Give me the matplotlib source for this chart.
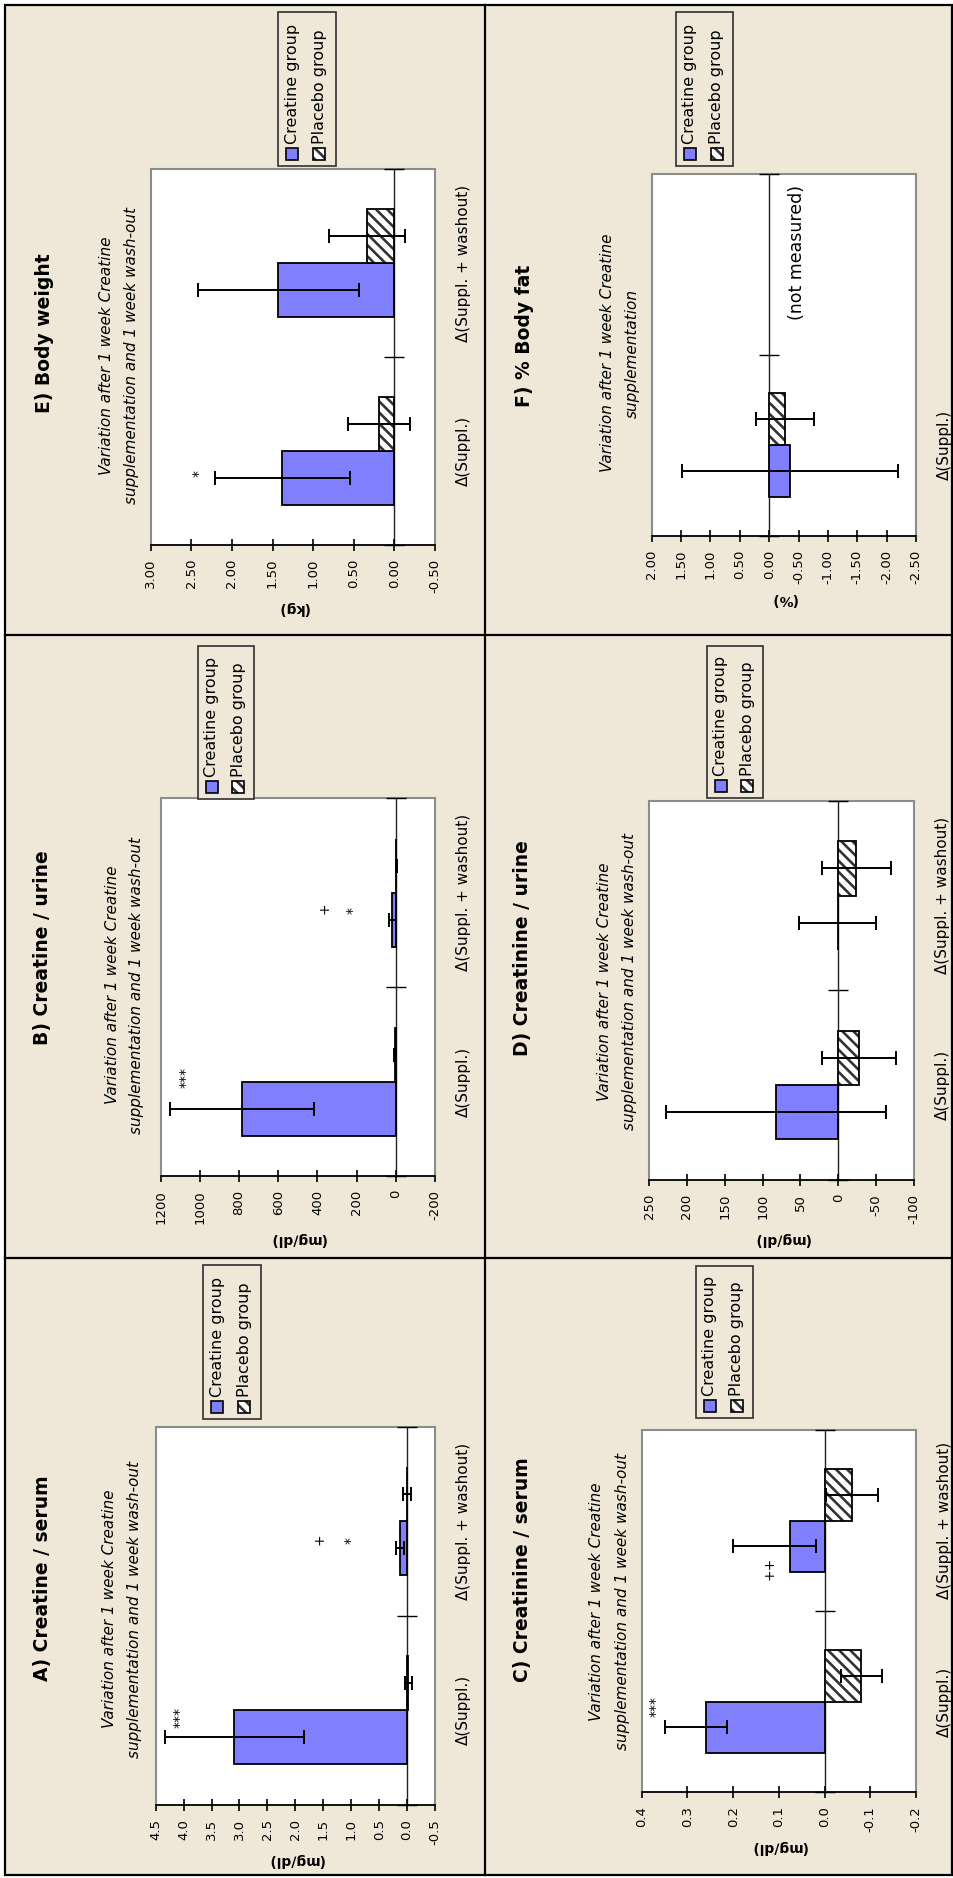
import matplotlib
matplotlib.use('Agg')
import matplotlib.pyplot as plt
from matplotlib.patches import Rectangle
from matplotlib.lines import Line2D
import numpy as np

plt.rcParams['font.family'] = ['DejaVu Sans']
plt.rcParams['axes.unicode_minus'] = False
plt.rcParams['hatch.linewidth'] = 1.9

W, H, DPI = 954, 1878, 100
BG = '#EFE8D8'
BLUE = '#8080FF'
HATCH = '\\\\\\'

categories = ['Δ(Suppl.)', 'Δ(Suppl. + washout)']
series_names = ['Creatine group', 'Placebo group']
subtitle_2w = ['Variation after 1 week Creatine', 'supplementation and 1 week wash-out']
subtitle_1w = ['Variation after 1 week Creatine', 'supplementation']

# ---------------- data ----------------
# A) Creatine / serum
A_ticks = [4.5, 4.0, 3.5, 3.0, 2.5, 2.0, 1.5, 1.0, 0.5, 0.0, -0.5]
A_ticklabels = ['4.5', '4.0', '3.5', '3.0', '2.5', '2.0', '1.5', '1.0', '0.5', '0.0', '-0.5']
A_creatine = [3.09, 0.13]
A_creatine_err_lo = [1.24, 0.07]
A_creatine_err_hi = [1.24, 0.07]
A_placebo = [-0.02, 0.00]
A_placebo_err = [0.06, 0.07]
A_marks = [('***', 4.08, -0.035), ('+', 1.57, 0.906), ('*', 1.02, 0.90)]

# B) Creatine / urine
B_ticks = [1200, 1000, 800, 600, 400, 200, 0, -200]
B_ticklabels = ['1200', '1000', '800', '600', '400', '200', '0', '-200']
B_creatine = [785, 17]
B_creatine_err_lo = [366, 16]
B_creatine_err_hi = [366, 16]
B_placebo = [2, -2]
B_placebo_err = [5, 3]
B_marks = [('***', 1075, 0.02), ('+', 363, 0.918), ('*', 220, 0.907)]

# C) Creatinine / serum
C_ticks = [0.4, 0.3, 0.2, 0.1, 0.0, -0.1, -0.2]
C_ticklabels = ['0.4', '0.3', '0.2', '0.1', '0.0', '-0.1', '-0.2']
C_creatine = [0.26, 0.075]
C_creatine_err_lo = [0.046, 0.056]
C_creatine_err_hi = [0.09, 0.126]
C_placebo = [-0.08, -0.06]
C_placebo_err = [0.045, 0.056]
C_marks = [('***', 0.37, -0.025), ('++', 0.12, 0.738)]

# D) Creatinine / urine
D_ticks = [250, 200, 150, 100, 50, 0, -50, -100]
D_ticklabels = ['250', '200', '150', '100', '50', '0', '-50', '-100']
D_creatine = [82, 1]
D_creatine_err_lo = [145, 51]
D_creatine_err_hi = [145, 51]
D_placebo = [-27, -24]
D_placebo_err = [49, 46]
D_marks = []

# E) Body weight
E_ticks = [3.0, 2.5, 2.0, 1.5, 1.0, 0.5, 0.0, -0.5]
E_ticklabels = ['3.00', '2.50', '2.00', '1.50', '1.00', '0.50', '0.00', '-0.50']
E_creatine = [1.38, 1.43]
E_creatine_err_lo = [0.83, 0.99]
E_creatine_err_hi = [0.83, 0.99]
E_placebo = [0.19, 0.34]
E_placebo_err = [0.38, 0.47]
E_marks = [('*', 2.41, -0.12)]

# F) % Body fat (only first period measured)
F_ticks = [2.0, 1.5, 1.0, 0.5, 0.0, -0.5, -1.0, -1.5, -2.0, -2.5]
F_ticklabels = ['2.00', '1.50', '1.00', '0.50', '0.00', '-0.50', '-1.00', '-1.50', '-2.00', '-2.50']
F_creatine = [-0.35]
F_creatine_err_lo = [1.84]
F_creatine_err_hi = [1.84]
F_placebo = [-0.27]
F_placebo_err = [0.50]
F_marks = [('(not measured)', -0.48, 1.066)]

# ---------------- layout (pixels) ----------------
panels = [
    dict(title='A) Creatine / serum', unit='(mg/dl)', box=(155.7, 435, 1426.7, 1805),
         title_xy=(43, 1578), sub_x=(110, 135), sub_y=1609, sub=subtitle_2w,
         leg=(203, 261, 1265, 1419), ticks=A_ticks, tl=A_ticklabels,
         cre=A_creatine, cre_lo=A_creatine_err_lo, cre_hi=A_creatine_err_hi,
         pla=A_placebo, pla_err=A_placebo_err, marks=A_marks, cats=categories),
    dict(title='B) Creatine / urine', unit='(mg/dl)', box=(160.7, 435, 798, 1176),
         title_xy=(43, 948), sub_x=(113, 137), sub_y=985, sub=subtitle_2w,
         leg=(198, 254, 646, 799), ticks=B_ticks, tl=B_ticklabels,
         cre=B_creatine, cre_lo=B_creatine_err_lo, cre_hi=B_creatine_err_hi,
         pla=B_placebo, pla_err=B_placebo_err, marks=B_marks, cats=categories),
    dict(title='C) Creatinine / serum', unit='(mg/dl)', box=(641.7, 916, 1430, 1792),
         title_xy=(523, 1570), sub_x=(597, 622), sub_y=1602, sub=subtitle_2w,
         leg=(696, 753, 1266, 1418), ticks=C_ticks, tl=C_ticklabels,
         cre=C_creatine, cre_lo=C_creatine_err_lo, cre_hi=C_creatine_err_hi,
         pla=C_placebo, pla_err=C_placebo_err, marks=C_marks, cats=categories),
    dict(title='D) Creatinine / urine', unit='(mg/dl)', box=(649, 914, 800.7, 1180),
         title_xy=(523, 948), sub_x=(605, 630), sub_y=982, sub=subtitle_2w,
         leg=(707, 763, 646, 798), ticks=D_ticks, tl=D_ticklabels,
         cre=D_creatine, cre_lo=D_creatine_err_lo, cre_hi=D_creatine_err_hi,
         pla=D_placebo, pla_err=D_placebo_err, marks=D_marks, cats=categories),
    dict(title='E) Body weight', unit='(kg)', box=(150.7, 435, 169, 545),
         title_xy=(45, 333), sub_x=(107, 132), sub_y=356, sub=subtitle_2w,
         leg=(278, 336, 12, 166), ticks=E_ticks, tl=E_ticklabels,
         cre=E_creatine, cre_lo=E_creatine_err_lo, cre_hi=E_creatine_err_hi,
         pla=E_placebo, pla_err=E_placebo_err, marks=E_marks, cats=categories),
    dict(title='F) % Body fat', unit='(%)', box=(651.7, 916, 173.5, 535.5),
         title_xy=(525, 336), sub_x=(608, 632), sub_y=353, sub=subtitle_1w,
         leg=(676, 733, 12, 166), ticks=F_ticks, tl=F_ticklabels,
         cre=F_creatine, cre_lo=F_creatine_err_lo, cre_hi=F_creatine_err_hi,
         pla=F_placebo, pla_err=F_placebo_err, marks=F_marks, cats=[categories[0], '']),
]


def fx(px):
    return px / W


def fy(py):
    return 1 - py / H


fig = plt.figure(figsize=(W / DPI, H / DPI), dpi=DPI)
fig.patch.set_facecolor('white')
fig.add_artist(Rectangle((fx(5), fy(1875)), fx(952) - fx(5), fy(5) - fy(1875),
                         transform=fig.transFigure, facecolor=BG, edgecolor='black',
                         lw=1.6, zorder=-5))
for (xa, ya, xb, yb) in [(485, 5, 485, 1875), (5, 635, 952, 635), (5, 1258, 952, 1258)]:
    fig.add_artist(Line2D([fx(xa), fx(xb)], [fy(ya), fy(yb)], transform=fig.transFigure,
                          color='black', lw=1.6, zorder=-4))


def draw_legend(box):
    lx0, lx1, ly0, ly1 = box
    fig.add_artist(Rectangle((fx(lx0), fy(ly1)), fx(lx1) - fx(lx0), fy(ly0) - fy(ly1),
                             transform=fig.transFigure, facecolor=BG, edgecolor='#303030',
                             lw=1.2, zorder=2))
    w = lx1 - lx0
    for i, name in enumerate(series_names):
        cx = lx0 + w * (0.245 + 0.47 * i)
        s = 12
        pb = ly1 - 6
        if i == 0:
            r = Rectangle((fx(cx - s / 2), fy(pb)), s / W, s / H, transform=fig.transFigure,
                          facecolor=BLUE, edgecolor='black', lw=1.2, zorder=3)
            fig.add_artist(r)
        else:
            r = Rectangle((fx(cx - s / 2), fy(pb)), s / W, s / H, transform=fig.transFigure,
                          facecolor='white', edgecolor='#333333', hatch=HATCH, lw=0, zorder=3)
            fig.add_artist(r)
            r2 = Rectangle((fx(cx - s / 2), fy(pb)), s / W, s / H, transform=fig.transFigure,
                           fill=False, edgecolor='black', lw=1.2, zorder=4)
            fig.add_artist(r2)
        fig.text(fx(cx), fy(pb - s - 4), name, rotation=90, ha='center', va='bottom',
                 fontsize=11.5, zorder=5)


BW = 1 / 3.5  # bar thickness (Excel gap width 150%)

for p in panels:
    x0, x1, yt, yb = p['box']
    ax = fig.add_axes([fx(x0), fy(yb), (x1 - x0) / W, (yb - yt) / H])
    ax.set_facecolor('white')
    ax.set_xlim(p['ticks'][0], p['ticks'][-1])
    ax.set_ylim(-0.5, 1.5)

    pos_c = np.arange(len(p['cre'])) - BW / 2
    pos_p = np.arange(len(p['pla'])) + BW / 2

    ax.axvline(0, color='#222222', lw=1.0, zorder=1)
    ax.plot(np.zeros(3), [-0.5, 0.5, 1.5], ls='none', marker='_', ms=14, mew=1.0,
            color='black', clip_on=False, zorder=3)

    ax.barh(pos_c, p['cre'], height=BW, color=BLUE, edgecolor='black', lw=1.3, zorder=2)
    ax.barh(pos_p, p['pla'], height=BW, color='white', edgecolor='#333333', hatch=HATCH,
            lw=0, zorder=2)
    ax.barh(pos_p, p['pla'], height=BW, fill=False, edgecolor='black', lw=1.3, zorder=2.5)

    ax.errorbar(p['cre'], pos_c, xerr=[p['cre_lo'], p['cre_hi']], fmt='none', ecolor='black',
                elinewidth=1.4, capsize=5, capthick=1.4, zorder=4)
    ax.errorbar(p['pla'], pos_p, xerr=p['pla_err'], fmt='none', ecolor='black',
                elinewidth=1.4, capsize=5, capthick=1.4, zorder=4)

    for (txt, xv, yv) in p['marks']:
        ax.text(xv, yv, txt, rotation=90, ha='center', va='center',
                fontsize=12.5 if len(txt) > 3 else 10, zorder=5)

    ax.set_xticks(p['ticks'])
    ax.set_xticklabels(p['tl'], rotation=90, fontsize=9.5)
    ax.tick_params(axis='x', direction='inout', length=8, width=1.2, pad=6, color='black')

    ax.set_yticks([0, 1])
    ax.set_yticklabels(p['cats'], fontsize=11)
    ax.tick_params(axis='y', length=0, pad=15, left=False, right=False,
                   labelleft=False, labelright=True)
    for lab in ax.get_yticklabels():
        lab.set_rotation(90)
        lab.set_va('center')
        lab.set_ha('left')

    ax.set_xlabel(p['unit'], rotation=180, fontweight='bold', fontsize=10, labelpad=6)

    for s in ['left', 'right', 'top']:
        ax.spines[s].set_color('#8c8c8c')
        ax.spines[s].set_linewidth(1.5)
    ax.spines['bottom'].set_color('black')
    ax.spines['bottom'].set_linewidth(1.3)

    tx, ty = p['title_xy']
    fig.text(fx(tx), fy(ty), p['title'], rotation=90, ha='center', va='center',
             fontsize=13.5, fontweight='bold')
    for k, line in enumerate(p['sub']):
        fig.text(fx(p['sub_x'][k]), fy(p['sub_y']), line, rotation=90, ha='center',
                 va='center', fontsize=11, fontstyle='italic')
    draw_legend(p['leg'])

fig.savefig('out.png', dpi=DPI, facecolor=fig.get_facecolor())
